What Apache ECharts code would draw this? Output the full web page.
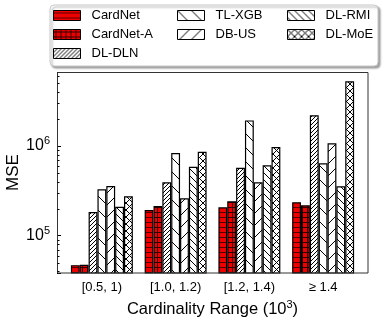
<!DOCTYPE html>
<html lang="en">
<head>
<meta charset="UTF-8">
<title>MSE by cardinality range</title>
<script src="https://cdn.jsdelivr.net/npm/echarts@6/dist/echarts.min.js"></script>
</head>
<body style="margin:0;width:383px;height:322px">
<div id="container" style="width:383px;height:322px"></div>
<script>
// values
var categories = ['[0.5, 1)', '[1.0, 1.2)', '[1.2, 1.4)', '\u2265 1.4'];
var cardNet  = [4.7e4, 1.93e5, 2.07e5, 2.36e5];
var cardNetA = [4.75e4, 2.14e5, 2.42e5, 2.18e5];
var dlDln    = [1.84e5, 3.94e5, 5.73e5, 2.20e6];
var tlXgb    = [3.29e5, 8.36e5, 1.93e6, 6.41e5];
var dbUs     = [3.58e5, 2.61e5, 3.94e5, 1.07e6];
var dlRmi    = [2.10e5, 5.87e5, 6.09e5, 3.55e5];
var dlMoe    = [2.75e5, 8.63e5, 9.75e5, 5.26e6];
var minorTicks = [4e4, 5e4, 6e4, 7e4, 8e4, 9e4,
                  2e5, 3e5, 4e5, 5e5, 6e5, 7e5, 8e5, 9e5,
                  2e6, 3e6, 4e6, 5e6, 6e6];

var FONT = 'Liberation Sans';
var RED = '#ee0000';

function hatch(size, bg, lineColor, draw) {
    var c = document.createElement('canvas');
    c.width = size; c.height = size;
    var ctx = c.getContext('2d');
    ctx.fillStyle = bg;
    ctx.fillRect(0, 0, size, size);
    ctx.strokeStyle = lineColor;
    ctx.lineWidth = 1;
    ctx.beginPath();
    draw(ctx, size);
    ctx.stroke();
    return {image: c, repeat: 'repeat'};
}
function fwd(ctx, s) { // '/'
    ctx.moveTo(0, s); ctx.lineTo(s, 0);
    ctx.moveTo(-1, 1); ctx.lineTo(1, -1);
    ctx.moveTo(s - 1, s + 1); ctx.lineTo(s + 1, s - 1);
}
function back(ctx, s) { // '\'
    ctx.moveTo(0, 0); ctx.lineTo(s, s);
    ctx.moveTo(s - 1, -1); ctx.lineTo(s + 1, 1);
    ctx.moveTo(-1, s - 1); ctx.lineTo(1, s + 1);
}

var patterns = {
    cardNet: hatch(5, RED, '#550000', function (ctx, s) { ctx.moveTo(0, 2.5); ctx.lineTo(s, 2.5); }),
    cardNetA: hatch(5, RED, '#330000', function (ctx, s) {
        ctx.moveTo(0, 2.5); ctx.lineTo(s, 2.5); ctx.moveTo(2.5, 0); ctx.lineTo(2.5, s);
    }),
    dlDln: hatch(4, '#fff', '#000', fwd),
    tlXgb: hatch(14, '#fff', '#000', back),
    dbUs: hatch(12, '#fff', '#000', fwd),
    dlRmi: hatch(7, '#fff', '#000', back),
    dlMoe: hatch(7, '#fff', '#000', function (ctx, s) { fwd(ctx, s); back(ctx, s); })
};

var seriesDefs = [
    ['CardNet', cardNet, patterns.cardNet],
    ['CardNet-A', cardNetA, patterns.cardNetA],
    ['DL-DLN', dlDln, patterns.dlDln],
    ['TL-XGB', tlXgb, patterns.tlXgb],
    ['DB-US', dbUs, patterns.dbUs],
    ['DL-RMI', dlRmi, patterns.dlRmi],
    ['DL-MoE', dlMoe, patterns.dlMoe]
];

var series = seriesDefs.map(function (d) {
    return {
        name: d[0],
        type: 'bar',
        data: d[1],
        barGap: '0%',
        barCategoryGap: '16%',
        itemStyle: {color: d[2], borderColor: '#000', borderWidth: 1.2},
        emphasis: {disabled: true}
    };
});

// legend slots: [name, left, top]
var legendPos = [
    ['CardNet', 53, 9], ['CardNet-A', 53, 28], ['DL-DLN', 53, 47],
    ['TL-XGB', 177, 9], ['DB-US', 177, 28],
    ['DL-RMI', 287, 9], ['DL-MoE', 287, 28]
];
var legends = legendPos.map(function (p) {
    return {
        data: [p[0]], left: p[1], top: p[2],
        itemWidth: 27, itemHeight: 10, padding: 0,
        icon: 'rect',
        textStyle: {fontFamily: FONT, fontSize: 13, color: '#000', padding: [0, 0, 0, 6]},
        itemStyle: {borderColor: '#000', borderWidth: 1},
        selectedMode: false
    };
});

var dom = document.getElementById('container');
var myChart = echarts.init(dom, null, {renderer: 'canvas'});

var option = {
    animation: false,
    backgroundColor: '#fff',
    legend: legends,
    grid: {left: 65, right: 23, top: 72, bottom: 49, containLabel: false, outerBoundsMode: 'none'},
    xAxis: {
        type: 'category',
        data: categories,
        axisLine: {show: false},
        axisTick: {show: true, inside: true, alignWithLabel: true, length: 3, lineStyle: {color: '#000'}},
        axisLabel: {fontFamily: FONT, fontSize: 13, color: '#000', margin: 8},
        name: 'Cardinality Range (10{s|3})',
        nameLocation: 'middle',
        nameGap: 26,
        nameMoveOverlap: false,
        nameTextStyle: {fontFamily: FONT, fontSize: 16.5, color: '#000',
            rich: {s: {fontFamily: FONT, fontSize: 11, verticalAlign: 'top', padding: [0, 0, 9, 0]}}}
    },
    yAxis: {
        type: 'log',
        min: 38400,
        max: 6.68e6,
        splitNumber: 2,
        offset: 8,
        axisLine: {show: false},
        splitLine: {show: false},
        axisTick: {show: true, inside: true, length: 4, lineStyle: {color: '#000'}},
        axisLabel: {
            fontFamily: FONT, fontSize: 16, color: '#000', margin: 7,
            showMinLabel: true, showMaxLabel: true,
            formatter: function (v) {
                var e = Math.log10(v);
                if (Math.abs(e - Math.round(e)) > 1e-6) return '';
                return '10{s|' + Math.round(e) + '}';
            },
            rich: {s: {fontFamily: FONT, fontSize: 11, color: '#000', verticalAlign: 'top', padding: [0, 0, 10, 0]}}
        },
        name: 'MSE',
        nameLocation: 'middle',
        nameGap: 35,
        nameMoveOverlap: false,
        nameTextStyle: {fontFamily: FONT, fontSize: 17, color: '#000'}
    },
    series: series
};
myChart.setOption(option, true);

// frame, legend box and minor log ticks
var gfx = [
    {type: 'rect', z: 0, silent: true,
     shape: {x: 50, y: 5, width: 328, height: 61, r: 4},
     style: {fill: '#fff', stroke: '#c8c8c8', lineWidth: 1,
             shadowColor: 'rgba(0,0,0,0.35)', shadowOffsetX: 2, shadowOffsetY: 2, shadowBlur: 2}},
    {type: 'rect', z: 100, silent: true,
     shape: {x: 57.5, y: 72.5, width: 310.5, height: 200.5},
     style: {fill: 'none', stroke: '#333', lineWidth: 1}}
];
minorTicks.forEach(function (v) {
    var y = Math.round(myChart.convertToPixel({yAxisIndex: 0}, v)) + 0.5;
    gfx.push({type: 'line', z: 100, silent: true,
        shape: {x1: 57.5, y1: y, x2: 59.5, y2: y},
        style: {stroke: '#000', lineWidth: 1}});
});
myChart.setOption({graphic: gfx});
</script>
</body>
</html>
